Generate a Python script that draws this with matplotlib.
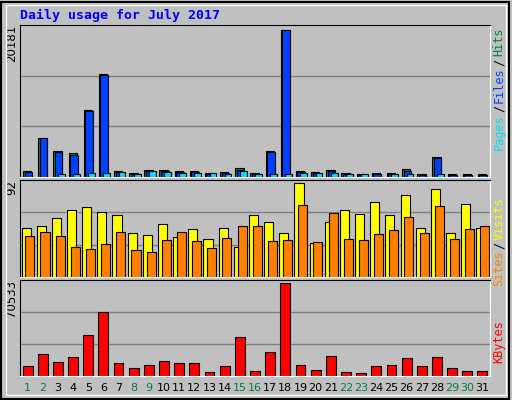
import matplotlib
matplotlib.use("Agg")
import matplotlib.pyplot as plt
import numpy as np

days = list(range(1, 32))
weekend = [1, 2, 8, 9, 15, 16, 22, 23, 29, 30]
hits = [770, 5400, 3500, 3220, 9200, 14100, 770, 500, 900, 900, 770, 770, 500, 640, 1180, 500,
        3500, 20181, 770, 640, 900, 500, 360, 500, 500, 1050, 360, 2680, 360, 360, 360]
files = [700, 5300, 3450, 3050, 9000, 14000, 700, 450, 850, 850, 700, 700, 450, 600, 1000, 450,
         3450, 20100, 700, 600, 850, 450, 330, 450, 450, 800, 330, 2600, 330, 330, 330]
pages = [60, 60, 360, 360, 500, 500, 640, 360, 770, 640, 500, 500, 500, 360, 770, 360,
         360, 360, 500, 500, 500, 360, 360, 60, 360, 360, 60, 360, 60, 60, 60]
visits = [48, 50, 58, 66, 68, 64, 61, 43, 41, 52, 39, 47, 37, 48, 29, 61,
          54, 43, 92, 33, 54, 66, 62, 73, 61, 80, 48, 86, 43, 71, 48]
sites = [40, 44, 40, 29, 27, 32, 44, 26, 24, 36, 44, 35, 28, 38, 50, 50,
         35, 36, 70, 34, 63, 37, 36, 42, 46, 59, 43, 69, 37, 47, 50]
kbytes = [7200, 16700, 10300, 14200, 31100, 48100, 9500, 5700, 8000, 11100, 9500, 9500, 3300, 7200,
          29600, 4100, 18000, 70533, 8000, 4900, 14900, 3300, 2600, 7200, 8000, 13400, 7200, 14200,
          5700, 4100, 4100]

W, H = 512, 400
fig = plt.figure(figsize=(W / 100, H / 100), dpi=100, facecolor="#c0c0c0")
mono = "DejaVu Sans Mono"

def panel(top, bottom, vmax):
    ax = fig.add_axes([20 / W, 1 - bottom / H, 470 / W, (bottom - top) / H])
    ax.set_facecolor("#c0c0c0")
    ax.set_xlim(0.5, 31.5)
    ax.set_xticks([])
    ax.set_yticks([])
    for s in ax.spines.values():
        s.set_color("black")
    ax.spines["right"].set_color("white")
    ax.spines["bottom"].set_color("white")
    ymax = vmax / 0.97
    ax.set_ylim(0, ymax)
    for f in (1 / 3, 2 / 3):
        ax.axhline(ymax * f, color="#808080", lw=1, zorder=0)
    ax.text(-0.004, 1.0, str(vmax), transform=ax.transAxes, rotation=90,
            ha="right", va="top", fontsize=8.5)
    return ax

x = np.array(days)
ek = dict(edgecolor="black", linewidth=0.8, zorder=2)

ax1 = panel(25, 177, max(hits))
ax1.bar(x - 0.3, hits, width=0.55, align="edge", color="#008040", **ek)
ax1.bar(x - 0.2, files, width=0.5, align="edge", color="#0040ff", **ek)
ax1.bar(x, pages, width=0.45, align="edge", color="#00e0ff", **ek)

ax2 = panel(180, 277, max(visits))
ax2.bar(x - 0.4, visits, width=0.6, align="edge", color="#ffff00", **ek)
ax2.bar(x - 0.15, sites, width=0.6, align="edge", color="#ff8000", **ek)

ax3 = panel(280, 376, max(kbytes))
ax3.bar(x, kbytes, width=0.65, color="#ff0000", **ek)
for d in days:
    ax3.text(d, -0.07, str(d), transform=ax3.get_xaxis_transform(), ha="center", va="top",
             fontsize=8, color="#008040" if d in weekend else "black")

fig.text(20 / W, 1 - 15 / H, "Daily usage for July 2017", color="#0000ff", fontsize=9.5,
         fontweight="bold", family=mono, va="center")

def side(parts, ytop):
    y = 1 - ytop / H
    for txt, col in parts:
        t = fig.text(499 / W, y, txt, rotation=90, color=col, fontsize=8.5, family=mono,
                     ha="center", va="top")
        fig.canvas.draw()
        y -= (t.get_window_extent().height + 2) / H

side([("Hits", "#008040"), ("/", "black"), ("Files", "#0040ff"), ("/", "black"),
      ("Pages", "#00e0ff")], 28)
side([("Visits", "#ffff00"), ("/", "black"), ("Sites", "#ff8000")], 197)
side([("KBytes", "#ff0000")], 320)

# outer frame
fig.add_artist(plt.Rectangle((0.002, 0.003), 0.993, 0.993, transform=fig.transFigure,
                             fill=False, edgecolor="black", lw=1.5))
fig.add_artist(plt.Rectangle((0.012, 0.012), 0.976, 0.976, transform=fig.transFigure,
                             fill=False, edgecolor="white", lw=1))

fig.savefig("out.png", dpi=100, facecolor=fig.get_facecolor())
